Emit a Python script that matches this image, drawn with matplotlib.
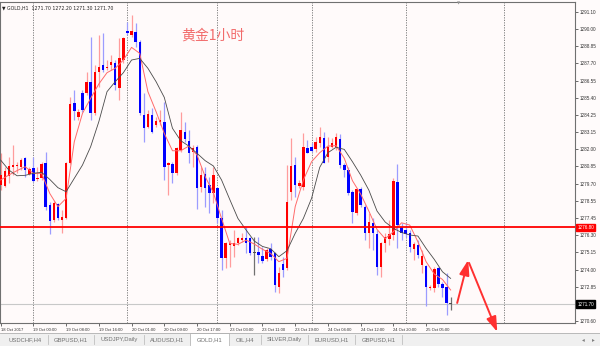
import numpy as np
import matplotlib
matplotlib.use('Agg')
import matplotlib.pyplot as plt
import matplotlib.transforms as mtransforms
from matplotlib.patches import Rectangle

plt.rcParams['font.family'] = ['Liberation Sans', 'DejaVu Sans']

# hourly GOLD candles, 18 Oct 2017 15:00 .. 25 Oct 2017
opens = [
    1279.62, 1279.55, 1280.21, 1280.79, 1280.88, 1280.79, 1281.39, 1280.35, 1280.72, 1279.99,
    1280.06, 1281.05, 1278.29, 1277.29, 1278.35, 1277.29, 1277.40, 1281.05, 1285.08, 1284.15,
    1285.74, 1285.70, 1286.47, 1284.37, 1287.14, 1287.58, 1287.36, 1287.58, 1287.73, 1286.03,
    1287.91, 1289.86, 1289.57, 1289.79, 1289.13, 1284.26, 1283.49, 1284.26, 1283.60, 1283.80,
    1283.82, 1280.94, 1281.01, 1280.39, 1281.94, 1283.16, 1282.56, 1281.83, 1282.12, 1279.50,
    1280.35, 1279.62, 1279.06, 1279.39, 1277.40, 1274.75, 1275.61, 1275.57, 1275.74, 1275.96,
    1276.08, 1276.08, 1275.08, 1275.19, 1274.90, 1274.68, 1275.35, 1275.08, 1272.87, 1274.37,
    1274.08, 1279.17, 1280.94, 1279.55, 1279.50, 1282.09, 1282.16, 1281.98, 1282.38, 1282.71,
    1281.50, 1282.16, 1282.16, 1282.65, 1280.94, 1280.61, 1279.17, 1277.78, 1279.33, 1278.18,
    1276.41, 1277.07, 1276.36, 1274.20, 1275.74, 1276.01, 1276.30, 1279.84, 1276.85, 1276.63,
    1276.45, 1275.35, 1275.63, 1274.31, 1274.24, 1272.76, 1272.76, 1274.08, 1273.04, 1272.87,
    1271.70]
highs = [
    1281.72, 1280.83, 1281.50, 1282.27, 1281.16, 1281.39, 1281.50, 1280.83, 1281.50, 1280.83,
    1281.16, 1281.83, 1278.51, 1278.58, 1278.44, 1277.96, 1281.16, 1285.48, 1285.92, 1284.64,
    1285.92, 1287.14, 1289.46, 1287.58, 1289.57, 1289.68, 1287.91, 1288.24, 1287.91, 1289.35,
    1289.46, 1290.46, 1290.90, 1290.35, 1289.24, 1285.70, 1284.59, 1284.70, 1284.15, 1284.59,
    1285.15, 1281.16, 1281.16, 1282.16, 1284.48, 1283.82, 1283.27, 1282.27, 1282.27, 1280.83,
    1280.83, 1280.17, 1280.83, 1279.50, 1277.96, 1275.85, 1275.96, 1276.63, 1276.19, 1276.41,
    1276.85, 1276.19, 1276.19, 1276.19, 1275.52, 1275.41, 1275.74, 1275.19, 1274.20, 1274.86,
    1280.94, 1282.71, 1281.50, 1279.95, 1283.04, 1282.60, 1282.38, 1282.82, 1283.49, 1283.16,
    1282.82, 1282.71, 1283.04, 1283.00, 1281.05, 1280.83, 1279.28, 1279.39, 1279.50, 1278.29,
    1277.73, 1277.40, 1276.63, 1275.85, 1276.41, 1277.29, 1280.06, 1281.01, 1277.07, 1277.07,
    1276.63, 1275.85, 1275.96, 1275.30, 1274.31, 1272.98, 1274.20, 1274.20, 1273.20, 1273.75,
    1272.20]
lows = [
    1279.28, 1279.50, 1279.73, 1280.28, 1280.39, 1280.61, 1280.17, 1280.28, 1279.84, 1279.90,
    1279.95, 1277.96, 1276.36, 1277.18, 1277.29, 1276.45, 1277.34, 1281.01, 1283.93, 1283.93,
    1284.48, 1285.59, 1283.93, 1284.26, 1286.14, 1287.14, 1287.25, 1287.25, 1285.92, 1285.26,
    1287.69, 1289.57, 1289.46, 1288.80, 1284.26, 1282.49, 1283.38, 1283.04, 1283.49, 1283.60,
    1279.95, 1278.95, 1279.73, 1280.28, 1281.83, 1282.49, 1281.05, 1280.83, 1278.00, 1279.17,
    1278.18, 1277.73, 1278.40, 1277.07, 1273.97, 1274.08, 1274.20, 1274.86, 1275.63, 1275.85,
    1275.08, 1274.97, 1273.64, 1274.42, 1274.42, 1274.59, 1274.64, 1272.54, 1272.43, 1273.53,
    1273.97, 1278.62, 1278.84, 1279.39, 1279.28, 1281.72, 1281.83, 1281.83, 1282.16, 1281.05,
    1281.16, 1282.05, 1281.94, 1280.72, 1280.17, 1278.95, 1277.07, 1277.62, 1278.18, 1275.96,
    1275.41, 1275.30, 1273.64, 1273.53, 1275.19, 1275.63, 1275.96, 1275.41, 1275.96, 1276.19,
    1275.19, 1274.64, 1274.75, 1273.75, 1271.58, 1272.65, 1272.54, 1272.87, 1272.20, 1270.99,
    1271.30]
closes = [
    1280.28, 1280.54, 1280.88, 1280.92, 1280.96, 1281.27, 1280.61, 1280.65, 1279.90, 1280.10,
    1281.01, 1278.18, 1277.25, 1278.44, 1277.40, 1277.51, 1281.05, 1284.99, 1284.53, 1284.48,
    1284.59, 1286.47, 1284.37, 1287.14, 1287.47, 1287.25, 1287.47, 1287.80, 1286.25, 1288.02,
    1289.35, 1289.68, 1289.86, 1289.13, 1284.37, 1283.38, 1284.33, 1283.16, 1283.86, 1283.93,
    1280.83, 1281.05, 1280.39, 1282.05, 1283.27, 1282.65, 1281.72, 1282.05, 1279.39, 1280.28,
    1279.39, 1279.06, 1280.28, 1277.40, 1274.75, 1275.74, 1275.79, 1275.74, 1276.08, 1276.12,
    1275.74, 1275.12, 1275.08, 1274.97, 1274.59, 1275.30, 1274.86, 1272.98, 1273.75, 1273.97,
    1278.47, 1280.88, 1279.62, 1279.73, 1282.16, 1281.76, 1281.89, 1282.49, 1282.78, 1281.10,
    1282.16, 1282.38, 1282.78, 1280.94, 1280.61, 1279.06, 1277.85, 1279.33, 1278.29, 1276.45,
    1277.18, 1276.45, 1274.20, 1275.79, 1276.19, 1276.36, 1279.90, 1276.96, 1276.45, 1276.36,
    1275.48, 1275.70, 1274.97, 1274.90, 1272.87, 1272.87, 1274.02, 1273.04, 1272.76, 1271.76,
    1271.70]

# moving averages read every second bar
ma_fast = [
    1279.95, 1280.28, 1280.57, 1280.83, 1280.39, 1280.39, 1279.06, 1278.18, 1278.73, 1282.49,
    1284.37, 1285.37, 1286.32, 1287.07, 1287.36, 1287.91, 1288.75, 1288.35, 1285.81, 1284.48,
    1283.04, 1281.89, 1281.89, 1282.20, 1281.61, 1280.17, 1279.11, 1277.40, 1275.74, 1275.68,
    1275.96, 1275.70, 1275.35, 1275.08, 1274.53, 1274.75, 1278.18, 1279.95, 1281.16, 1281.76,
    1282.20, 1282.23, 1281.39, 1279.90, 1279.02, 1277.89, 1276.67, 1276.05, 1276.52, 1277.11,
    1276.96, 1275.85, 1274.53, 1273.71, 1273.35, 1272.65]
ma_slow = [
    1281.27, 1280.61, 1280.23, 1280.26, 1280.39, 1280.46, 1279.99, 1279.44, 1279.17, 1280.06,
    1280.94, 1282.16, 1283.82, 1285.81, 1286.47, 1287.07, 1287.91, 1288.02, 1287.36, 1286.47,
    1285.43, 1283.38, 1282.56, 1282.20, 1281.72, 1281.23, 1280.88, 1279.95, 1278.66, 1277.40,
    1276.63, 1275.90, 1275.54, 1275.39, 1274.86, 1275.26, 1276.41, 1277.40, 1278.73, 1280.79,
    1281.76, 1282.12, 1281.98, 1281.16, 1280.28, 1279.28, 1277.89, 1277.16, 1276.74, 1276.47,
    1276.30, 1276.23, 1275.41, 1274.68, 1273.86, 1273.42]

time_labels = ['18 Oct 2017', '19 Oct 00:00', '19 Oct 08:00', '19 Oct 16:00', '20 Oct 01:00',
               '20 Oct 09:00', '20 Oct 17:00', '23 Oct 03:00', '23 Oct 11:00', '23 Oct 19:00',
               '24 Oct 04:00', '24 Oct 12:00', '24 Oct 20:00', '25 Oct 05:00']
day_breaks = [8, 31, 53, 76, 99, 123]
price_ticks = [1291.10, 1290.00, 1288.85, 1287.70, 1286.55, 1285.40, 1284.25, 1283.15, 1282.00,
               1280.85, 1279.70, 1278.55, 1277.45, 1276.30, 1275.15, 1274.00, 1272.85, 1270.60]
level_line = 1276.80
bid = 1271.70
header = '\u25bc GOLD,H1  1271.70 1272.20 1271.30 1271.70'
title = '黄金1小时'
arrow_up = [(111.6, 1271.79), (114.3, 1274.64)]
arrow_down = [(114.5, 1274.45), (121.4, 1269.87)]
tabs = ['USDCHF,H4', 'GBPUSD,H1', 'USDJPY,Daily', 'AUDUSD,H1', 'GOLD,H1',
        'OIL,H4', 'SILVER,Daily', 'EURUSD,H1', 'GBPUSD,H1']

W, H = 600, 346
fig = plt.figure(figsize=(W / 100, H / 100), dpi=100)
fig.patch.set_facecolor('#FFFBFB')
ax = fig.add_axes([0.0, 23.3 / H, 575 / W, 321 / H])
ax.set_facecolor('#FFFAFA')

o = np.array(opens)
h = np.array(highs)
l = np.array(lows)
c = np.array(closes)
x = np.arange(len(o))
up = c > o
doji = np.abs(c - o) < 0.01
body_col = np.where(doji, '#505050', np.where(up, '#FF0000', '#0000FF'))
wick_col = np.where(doji, '#707070', np.where(up, '#FF9C9C', '#9C9CFF'))

ax.vlines(x, l, h, colors=wick_col, lw=0.9, zorder=2)
ax.bar(x, np.maximum(np.abs(c - o), 0.07), bottom=np.minimum(o, c), width=0.6,
       color=body_col, linewidth=0, zorder=3)

ma_x = np.arange(0, len(o), 2)
ax.plot(ma_x, ma_fast, color='#FF6A6A', lw=0.7, zorder=4)
ax.plot(ma_x, ma_slow, color='#4A4A4A', lw=0.6, zorder=4)

for d in day_breaks:
    ax.axvline(d, color='#707070', lw=0.6, ls=(0, (1.5, 1.5)), zorder=1)

ax.axhline(bid, color='#C8C8C8', lw=0.8, zorder=1)
ax.axhline(level_line, color='#FF0000', lw=1.3, zorder=5)

ax.set_xlim(-0.16, 140.4)
ax.set_ylim(1270.48, 1291.78)

ax.yaxis.tick_right()
ax.set_yticks(price_ticks)
ax.set_yticklabels(['%.2f' % p for p in price_ticks])
ax.set_xticks(np.arange(0, 8 * len(time_labels), 8))
ax.set_xticklabels(time_labels, ha='left')
ax.tick_params(axis='y', labelsize=3.3, length=2.5, width=0.5, pad=1, colors='#303030')
ax.tick_params(axis='x', labelsize=3.0, length=2, width=0.5, pad=1.5, colors='#303030')
for s in ax.spines.values():
    s.set_color('#707070')
    s.set_linewidth(0.8)

trans = mtransforms.blended_transform_factory(ax.transAxes, ax.transData)
ax.text(1.004, level_line, '%.2f' % level_line, transform=trans, fontsize=3.3, color='white',
        va='center', ha='left', zorder=10, clip_on=False,
        bbox=dict(boxstyle='square,pad=0.3', fc='#FF0000', ec='#FF0000'))
ax.text(1.004, bid, '%.2f' % bid, transform=trans, fontsize=3.3, color='white',
        va='center', ha='left', zorder=10, clip_on=False,
        bbox=dict(boxstyle='square,pad=0.3', fc='#000000', ec='#000000'))

ax.text(0.004, 0.988, header, transform=ax.transAxes, fontsize=3.3, color='#202020',
        va='top', ha='left', family=['DejaVu Sans'])
fig.text(181 / W, 1 - 36 / H, title, fontsize=10, color='#F26B6B', va='center', ha='left',
         family=['Noto Sans CJK SC', 'DejaVu Sans'])
fig.text(459 / W, 1 - 3.5 / H, '\u25bc', fontsize=3, color='#909090', ha='center', va='center',
         family=['DejaVu Sans'])

arrow_kw = dict(arrowstyle='-|>,head_length=0.9,head_width=0.3', color='#FF3030', lw=1.4,
                shrinkA=0, shrinkB=0)
ax.annotate('', xy=arrow_up[1], xytext=arrow_up[0], arrowprops=arrow_kw, annotation_clip=False)
ax.annotate('', xy=arrow_down[1], xytext=arrow_down[0], arrowprops=arrow_kw,
            annotation_clip=False)

# tab bar at the bottom
tab_ax = fig.add_axes([0, 0, 1, 13 / H])
tab_ax.set_xlim(0, W)
tab_ax.set_ylim(0, 13)
tab_ax.axis('off')
tab_ax.add_patch(Rectangle((0, 0), W, 13, fc='#F0F0F0', ec='none'))
tab_ax.plot([0, W], [12.6, 12.6], color='#B0B0B0', lw=0.6)
tab_left = [2, 48, 94, 144, 190, 229, 261, 308, 355]
tab_right = tab_left[1:] + [402]
for name, x0, x1 in zip(tabs, tab_left, tab_right):
    if name == 'GOLD,H1':
        tab_ax.add_patch(Rectangle((x0, 0), x1 - x0, 13, fc='#FFFFFF', ec='#B0B0B0', lw=0.5))
    else:
        tab_ax.plot([x1, x1], [2, 11], color='#C0C0C0', lw=0.6)
    tab_ax.text((x0 + x1) / 2, 6, name, fontsize=4.2, color='#707070', ha='center', va='center')
tab_ax.text(583, 6.5, '\u25c2', fontsize=4, color='#808080', ha='center', va='center',
            family=['DejaVu Sans'])
tab_ax.text(593, 6.5, '\u25b8', fontsize=4, color='#808080', ha='center', va='center',
            family=['DejaVu Sans'])

plt.savefig('out.png', dpi=100, facecolor=fig.get_facecolor())
